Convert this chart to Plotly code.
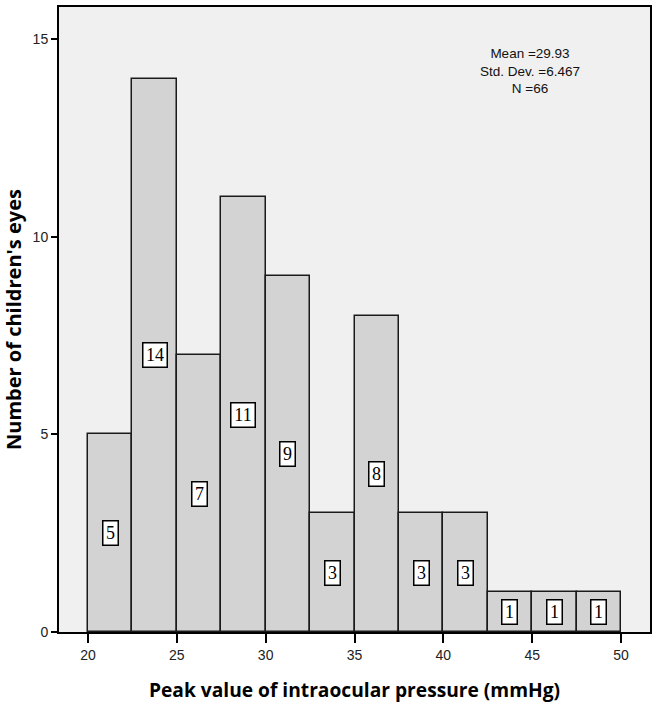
import plotly.graph_objects as go

bin_starts = [20, 22.5, 25, 27.5, 30, 32.5, 35, 37.5, 40, 42.5, 45, 47.5]
counts = [5, 14, 7, 11, 9, 3, 8, 3, 3, 1, 1, 1]
bin_width = 2.5
x_ticks = [20, 25, 30, 35, 40, 45, 50]
y_ticks = [0, 5, 10, 15]
stats_lines = ["Mean =29.93", "Std. Dev. =6.467", "N =66"]

centers = [s + bin_width / 2 for s in bin_starts]

fig = go.Figure()
fig.add_trace(go.Bar(
    x=centers, y=counts, width=[bin_width] * len(counts),
    marker=dict(color="#d3d3d3", line=dict(color="#1a1a1a", width=1.5)),
    hoverinfo="skip",
))

for c, v in zip(centers, counts):
    txt = str(v)
    fig.add_annotation(
        x=c, y=v / 2, text=txt, showarrow=False,
        font=dict(family="Liberation Serif, Times New Roman, serif", size=18, color="black"),
        bgcolor="white", bordercolor="black", borderwidth=1.5, borderpad=1,
        width=12 if len(txt) == 1 else 21, height=21,
    )

fig.add_annotation(
    x=0.797, y=0.898, xref="paper", yref="paper", xanchor="center", yanchor="middle",
    text="<br>".join(stats_lines), showarrow=False, align="center",
    font=dict(family="Liberation Sans, Arial, sans-serif", size=13.5, color="#111"),
)

fig.update_layout(
    width=658, height=705,
    margin=dict(l=59, r=8, t=7, b=73, autoexpand=False),
    paper_bgcolor="white", plot_bgcolor="#f0f0f0",
    showlegend=False,
    font=dict(family="Liberation Sans, Arial, sans-serif", size=14, color="#222"),
    bargap=0,
)
fig.update_xaxes(
    range=[18.37, 51.63], tickvals=x_ticks, ticks="outside", ticklen=9, tickwidth=1.5,
    tickcolor="black", showline=True, linecolor="black", linewidth=2, mirror=True,
    showgrid=False, zeroline=False, automargin=False,
    title=dict(text="<b>Peak value of intraocular pressure (mmHg)</b>",
               font=dict(family="Open Sans, sans-serif", size=19.2, color="black"),
               standoff=22),
)
fig.update_yaxes(
    range=[0, 15.81], tickvals=y_ticks, ticks="outside", ticklen=6, tickwidth=1.5,
    tickcolor="black", showline=True, linecolor="black", linewidth=2, mirror=True,
    showgrid=False, zeroline=False, automargin=False,
    title=dict(text="<b>Number of children's eyes</b>",
               font=dict(family="Open Sans, sans-serif", size=20, color="black"),
               standoff=9),
)

fig.write_html("out.html", config={"displayModeBar": False},
               post_script="document.body.style.margin='0';")
